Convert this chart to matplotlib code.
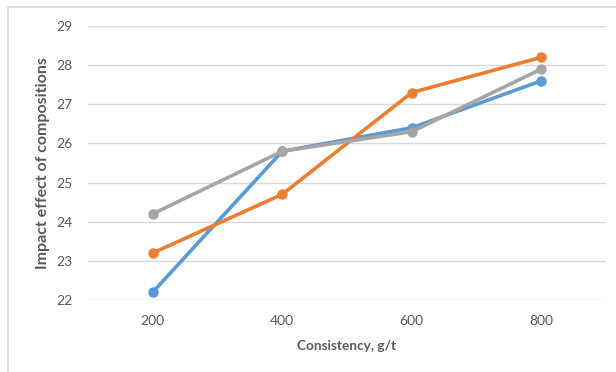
import matplotlib
matplotlib.use("Agg")
import matplotlib.pyplot as plt
from matplotlib.patches import Rectangle

categories = ["200", "400", "600", "800"]
series_blue = [22.2, 25.8, 26.4, 27.6]
series_orange = [23.2, 24.7, 27.3, 28.2]
series_grey = [24.2, 25.8, 26.3, 27.9]
y_ticks = [22, 23, 24, 25, 26, 27, 28, 29]

plt.rcParams['font.family'] = ['Lato', 'DejaVu Sans']

fig = plt.figure(figsize=(6.16, 3.72), dpi=100)
fig.patch.set_facecolor('white')
fig.patches.append(Rectangle((8/616, -0.01), 1.0, 1 - 7/372 + 0.01, transform=fig.transFigure,
                             fill=False, edgecolor='#D9D9D9', linewidth=1.2))
ax = fig.add_axes([88/616, 1 - 300/372, (606 - 88)/616, (300 - 26)/372])

x = list(range(len(categories)))
for vals, col in [(series_blue, '#5B9BD5'), (series_orange, '#ED7D31'), (series_grey, '#A5A5A5')]:
    ax.plot(x, vals, color=col, linewidth=2.6, marker='o', markersize=6.5, solid_capstyle='round', zorder=3)

ax.set_xlim(-0.5, len(categories) - 0.5)
ax.set_ylim(22, 29)
ax.set_yticks(y_ticks)
ax.set_xticks(x)
ax.set_xticklabels(categories)
ax.grid(axis='y', color='#D9D9D9', linewidth=1.0)
ax.set_axisbelow(True)
for s in ax.spines.values():
    s.set_visible(False)
ax.tick_params(axis='both', length=0, colors='#595959', labelsize=10)
ax.tick_params(axis='y', pad=11)
ax.tick_params(axis='x', pad=11)
ax.set_xlabel("Consistency, g/t", fontsize=9.8, fontweight='bold', color='#595959')
ax.set_ylabel("Impact effect of compositions", fontsize=11.5, fontweight='bold', color='#595959')
fig.canvas.draw()
ax.yaxis.set_label_coords((43 - 88) / (606 - 88), 0.5)
ax.yaxis.label.set_verticalalignment('center')
ax.xaxis.set_label_coords(0.5, -(346 - 300) / (300 - 26))
ax.xaxis.label.set_verticalalignment('center')

fig.savefig("out.png", dpi=100)
